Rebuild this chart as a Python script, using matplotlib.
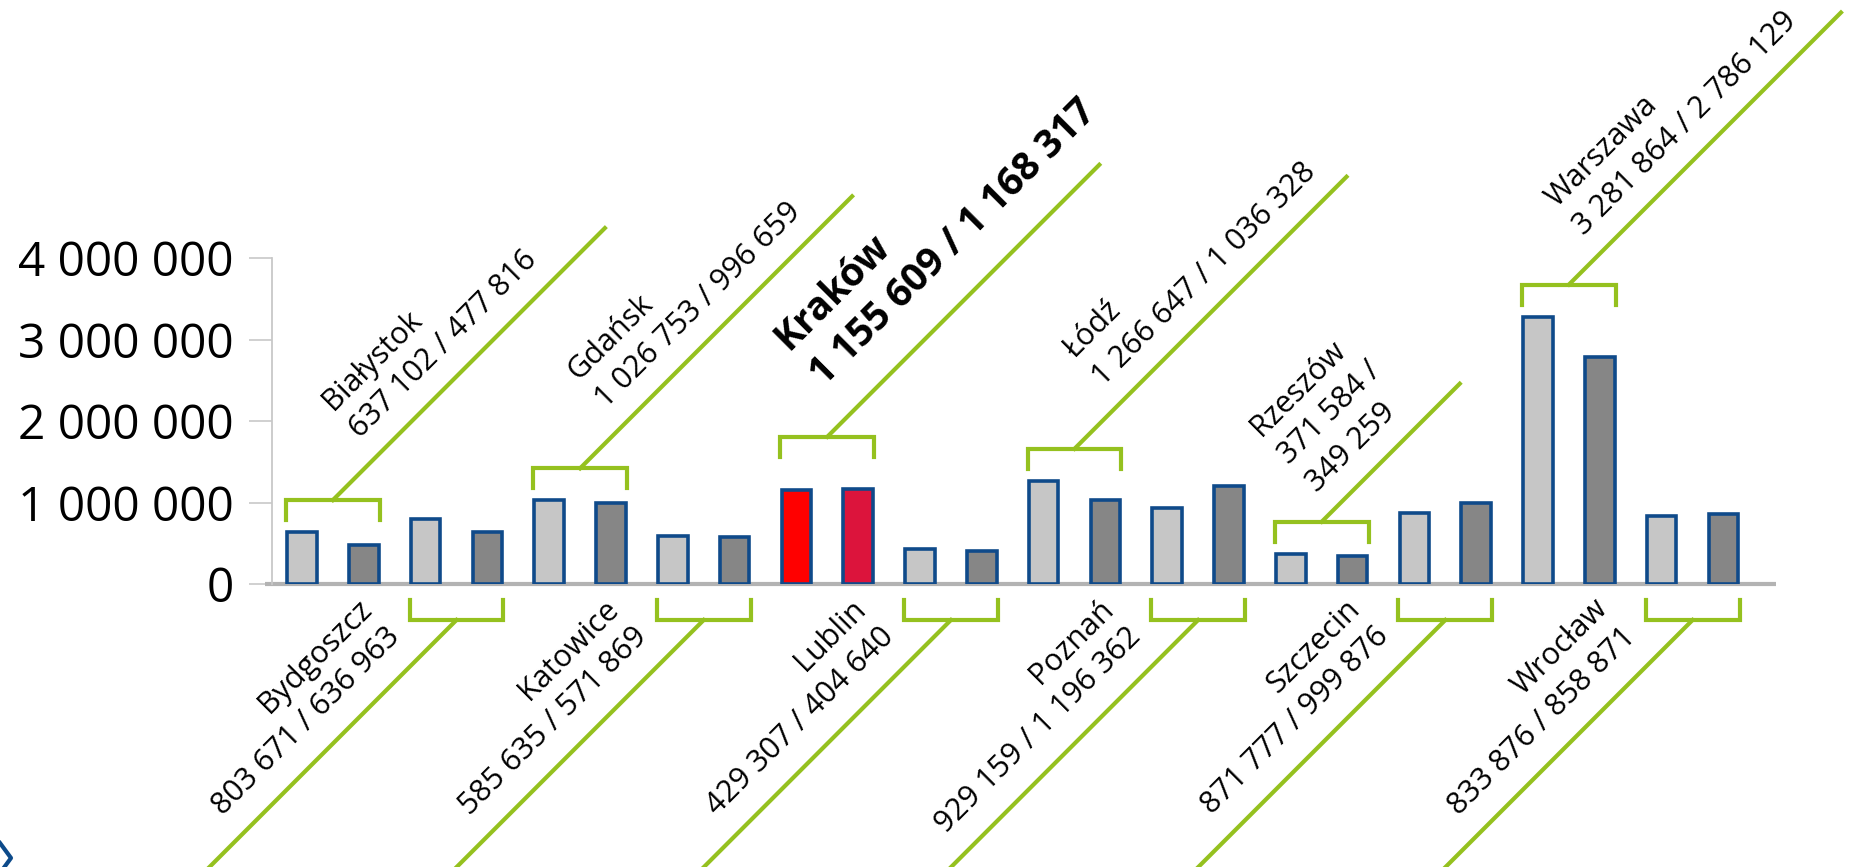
import numpy as np
import matplotlib
matplotlib.use('Agg')
import matplotlib.pyplot as plt
from matplotlib.lines import Line2D

# ---------- Data ----------
cities = ['Białystok', 'Bydgoszcz', 'Gdańsk', 'Katowice', 'Kraków', 'Lublin',
          'Łódź', 'Poznań', 'Rzeszów', 'Szczecin', 'Warszawa', 'Wrocław']
first = [637102, 803671, 1026753, 585635, 1155609, 429307,
         1266647, 929159, 371584, 871777, 3281864, 833876]
second = [477816, 636963, 996659, 571869, 1168317, 404640,
          1036328, 1196362, 349259, 999876, 2786129, 858871]
yticks = [0, 1000000, 2000000, 3000000, 4000000]
highlight = 'Kraków'

# ---------- Layout (pixels) ----------
W, H, DPI = 1854, 867, 100
AX_L, AX_R, AX_T, AX_B = 272, 1776, 258, 584
XMIN, XMAX = -0.485, 23.85
YMAX = 4000000
PXX = (XMAX - XMIN) / (AX_R - AX_L)      # data x per pixel
PXY = YMAX / (AX_B - AX_T)               # data y per pixel
PT = 72 / DPI                            # points per pixel

GREEN = '#95c11f'
EDGE = '#0f4a8a'
LIGHT = '#c6c6c6'
DARK = '#868686'

# label start offset along the leader (px), per city
along_top = {'Białystok': 63, 'Gdańsk': 60, 'Kraków': 33, 'Łódź': 64,
             'Rzeszów': 17, 'Warszawa': 45}
leader_len = {'Rzeszów': 138}

plt.rcParams['font.family'] = ['Open Sans', 'DejaVu Sans']


def fmt(v):
    return f"{v:,}".replace(',', ' ')


fig = plt.figure(figsize=(W / DPI, H / DPI), dpi=DPI)
ax = fig.add_axes([AX_L / W, (H - AX_B) / H, (AX_R - AX_L) / W, (AX_B - AX_T) / H])

# ---------- Bars ----------
n = len(cities)
pos1 = np.arange(n) * 2
pos2 = pos1 + 1
c1 = ['#ff0000' if c == highlight else LIGHT for c in cities]
c2 = ['#dc143c' if c == highlight else DARK for c in cities]
ax.bar(pos1, first, width=0.48, color=c1, edgecolor=EDGE, linewidth=2.6, zorder=3)
ax.bar(pos2, second, width=0.48, color=c2, edgecolor=EDGE, linewidth=2.6, zorder=3)

# baseline
ax.plot([XMIN - 7 * PXX, XMAX], [0, 0], color='#b3b3b3', lw=3, clip_on=False, zorder=2,
        solid_capstyle='butt')

ax.set_xlim(XMIN, XMAX)
ax.set_ylim(0, YMAX)
ax.set_yticks(yticks)
ax.set_yticklabels([fmt(v) for v in yticks])
ax.set_xticks([])
for s in ['top', 'right', 'bottom']:
    ax.spines[s].set_visible(False)
ax.spines['left'].set_color('#c8c8c8')
ax.spines['left'].set_linewidth(1.3)
ax.tick_params(axis='y', length=16.5, width=1.2, color='#c8c8c8', pad=11,
               labelsize=34.5)

# ---------- Brackets, leaders, labels ----------
u = np.array([1, 1]) / np.sqrt(2)     # up-right
nrm = np.array([-1, 1]) / np.sqrt(2)  # up-left
for i, city in enumerate(cities):
    a, b = first[i], second[i]
    xl = pos1[i] - 0.26
    xr = pos2[i] + 0.26
    xc = (xl + xr) / 2
    bold = city == highlight
    if city == 'Rzeszów':
        txt = f"{city}\n{fmt(a)} /\n{fmt(b)}"
    else:
        txt = f"{city}\n{fmt(a)} / {fmt(b)}"
    if i % 2 == 0:
        top = max(a, b)
        gap = 52 if bold else 32
        yh = top + gap * PXY
        yl = yh - 20 * PXY
        ax.plot([xl, xl, xr, xr], [yl, yh, yh, yl], color=GREEN, lw=3,
                clip_on=False, solid_joinstyle='miter', zorder=4)
        L = leader_len.get(city, 272)
        ax.plot([xc, xc + L * PXX], [yh, yh + L * PXY], color=GREEN, lw=3,
                clip_on=False, zorder=4)
        d = 28 if bold else 17
        off = along_top[city] * u + d * nrm
        ax.annotate(txt, xy=(xc, yh), xytext=(off[0] * PT, off[1] * PT),
                    textcoords='offset points', rotation=45, rotation_mode='anchor',
                    ha='left', va='bottom', fontsize=28 if bold else 22,
                    fontweight='bold' if bold else 'normal', linespacing=1.4,
                    annotation_clip=False)
    else:
        yh = -36 * PXY
        yl = -16 * PXY
        ax.plot([xl, xl, xr, xr], [yl, yh, yh, yl], color=GREEN, lw=3,
                clip_on=False, solid_joinstyle='miter', zorder=4)
        L = 262
        ax.plot([xc, xc - L * PXX], [yh, yh - L * PXY], color=GREEN, lw=3,
                clip_on=False, zorder=4)
        off = -52 * u + 20 * nrm
        ax.annotate(txt, xy=(xc, yh), xytext=(off[0] * PT, off[1] * PT),
                    textcoords='offset points', rotation=45, rotation_mode='anchor',
                    ha='right', va='bottom', fontsize=22, linespacing=1.4,
                    annotation_clip=False)

# logo fragment in the bottom-left corner
fig.add_artist(Line2D([0, 11 / W, 0], [1 - 843 / H, 1 - 858 / H, 1 - 873 / H],
                      transform=fig.transFigure, color='#0d4a8a', lw=3))

fig.savefig('out.png', dpi=DPI)
